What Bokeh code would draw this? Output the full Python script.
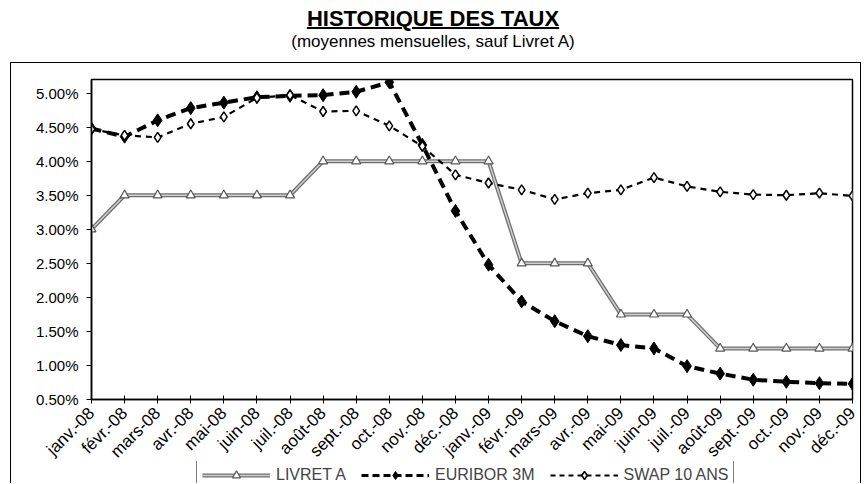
from bokeh.plotting import figure
from bokeh.models import (Range1d, FixedTicker, Legend, LegendItem, Div)
from bokeh.layouts import column
from bokeh.embed import file_html
from bokeh.resources import INLINE
import math

months = ["janv.-08", "févr.-08", "mars-08", "avr.-08", "mai-08", "juin-08", "juil.-08",
          "août-08", "sept.-08", "oct.-08", "nov.-08", "déc.-08",
          "janv.-09", "févr.-09", "mars-09", "avr.-09", "mai-09", "juin-09", "juil.-09",
          "août-09", "sept.-09", "oct.-09", "nov.-09", "déc.-09"]
livret_a = [3.00, 3.50, 3.50, 3.50, 3.50, 3.50, 3.50, 4.00, 4.00, 4.00, 4.00, 4.00,
            4.00, 2.50, 2.50, 2.50, 1.75, 1.75, 1.75, 1.25, 1.25, 1.25, 1.25, 1.25]
euribor_3m = [4.48, 4.36, 4.60, 4.78, 4.86, 4.94, 4.96, 4.97, 5.02, 5.16, 4.24, 3.27,
              2.48, 1.94, 1.65, 1.43, 1.30, 1.25, 0.99, 0.88, 0.79, 0.76, 0.74, 0.73]
swap_10 = [4.47, 4.38, 4.35, 4.55, 4.65, 4.93, 4.97, 4.73, 4.74, 4.52, 4.22, 3.80,
           3.68, 3.58, 3.44, 3.53, 3.58, 3.76, 3.63, 3.55, 3.51, 3.50, 3.53, 3.49]
y_ticks = [0.5, 1.0, 1.5, 2.0, 2.5, 3.0, 3.5, 4.0, 4.5, 5.0]

title_text = "HISTORIQUE DES TAUX"
subtitle_text = "(moyennes mensuelles, sauf Livret A)"
names = ["LIVRET A", "EURIBOR 3M", "SWAP 10 ANS"]

FONT = "Liberation Sans"
xs = list(range(len(months)))

header = Div(
    text=(f'<div style="width:866px;text-align:center;font-family:\'{FONT}\';color:black;">'
          f'<div style="font-weight:bold;font-size:22px;line-height:26px;'
          f'text-decoration:underline;text-decoration-thickness:2px;text-underline-offset:1px;'
          f'padding-top:6px;">{title_text}</div>'
          f'<div style="font-size:17px;line-height:20px;padding-top:0px;">{subtitle_text}</div>'
          f'</div>'),
    width=866, height=62, margin=(0, 0, 0, 0))

p = figure(width=849, height=409, output_backend="svg", toolbar_location=None,
           x_range=Range1d(0, len(months) - 1), y_range=Range1d(0.5, 5.2),
           min_border_left=80, min_border_right=8, min_border_top=16, min_border_bottom=73)
p.background_fill_color = "white"
p.border_fill_color = "white"
p.outline_line_color = "black"
p.outline_line_width = 1.5
p.grid.visible = False

# axes
p.yaxis.ticker = FixedTicker(ticks=y_ticks)
p.yaxis.major_label_overrides = {t: f"{t:.2f}%" for t in y_ticks}
p.yaxis.major_label_text_font = FONT
p.yaxis.major_label_text_font_size = "15px"
p.yaxis.major_label_text_color = "black"
p.yaxis.minor_tick_line_color = None
p.yaxis.major_tick_in = 0
p.yaxis.major_tick_out = 5
p.yaxis.axis_line_width = 1.5
p.yaxis.major_label_standoff = 8

p.xaxis.ticker = FixedTicker(ticks=xs)
p.xaxis.major_label_overrides = {i: m for i, m in enumerate(months)}
p.xaxis.major_label_orientation = math.pi / 4
p.xaxis.major_label_text_font = FONT
p.xaxis.major_label_text_font_size = "17px"
p.xaxis.major_label_text_color = "black"
p.xaxis.minor_tick_line_color = None
p.xaxis.major_tick_in = 4
p.xaxis.major_tick_out = 4
p.xaxis.axis_line_width = 1.5
p.xaxis.major_label_standoff = 7

# series
la_edge = p.line(xs, livret_a, line_color="#6e6e6e", line_width=4)
la_core = p.line(xs, livret_a, line_color="#d0d0d0", line_width=1.5)
la_mk = p.scatter(xs, livret_a, marker="triangle", size=9, fill_color="white",
                  line_color="#555555", line_width=1.2)

eu_ln = p.line(xs, euribor_3m, line_color="black", line_width=4, line_dash="10 6")
eu_mk = p.scatter(xs, euribor_3m, marker="diamond", size=13, fill_color="black",
                  line_color="black")

sw_ln = p.line(xs, swap_10, line_color="black", line_width=2.2, line_dash="6 5")
sw_mk = p.scatter(xs, swap_10, marker="diamond", size=10, fill_color="white",
                  line_color="black", line_width=1.5)

# legend in its own transparent strip overlapping the bottom of the chart
lf = figure(width=849, height=22, output_backend="svg", toolbar_location=None,
            x_range=Range1d(0, 1), y_range=Range1d(-3, -2),
            x_axis_location=None, y_axis_location=None,
            min_border_left=0, min_border_right=0, min_border_top=0, min_border_bottom=0,
            margin=(-11, 0, 0, 0))
lf.outline_line_color = None
lf.grid.visible = False
lf.border_fill_alpha = 0
lf.background_fill_alpha = 0
l_la_edge = lf.line(xs, livret_a, line_color="#6e6e6e", line_width=4)
l_la_core = lf.line(xs, livret_a, line_color="#d0d0d0", line_width=1.5)
l_la_mk = lf.scatter(xs, livret_a, marker="triangle", size=9, fill_color="white",
                     line_color="#555555", line_width=1.2)
l_eu_ln = lf.line(xs, euribor_3m, line_color="black", line_width=3, line_dash="7 4")
l_eu_mk = lf.scatter(xs, euribor_3m, marker="diamond", size=12, fill_color="black",
                     line_color="black")
l_sw_ln = lf.line(xs, swap_10, line_color="black", line_width=1.8, line_dash="5 4")
l_sw_mk = lf.scatter(xs, swap_10, marker="diamond", size=9, fill_color="white",
                     line_color="black", line_width=1.5)

legend = Legend(items=[LegendItem(label=names[0], renderers=[l_la_edge, l_la_core, l_la_mk]),
                       LegendItem(label=names[1], renderers=[l_eu_ln, l_eu_mk]),
                       LegendItem(label=names[2], renderers=[l_sw_ln, l_sw_mk])],
                orientation="horizontal", location=(105, -8),
                label_text_font=FONT, label_text_font_size="16px",
                label_standoff=6, label_height=20,
                glyph_width=68, glyph_height=20, spacing=15, padding=5, margin=0,
                border_line_color="black", border_line_width=1.5,
                background_fill_color="white", background_fill_alpha=1.0)
lf.add_layout(legend, "center")

box = column(p, lf, spacing=0,
             styles={"border-top": "1.5px solid black", "border-left": "1.5px solid black",
                     "border-right": "1.5px solid black", "margin-left": "10px"})
layout = column(header, box, spacing=0)
open("out.html", "w").write(file_html(layout, INLINE))
